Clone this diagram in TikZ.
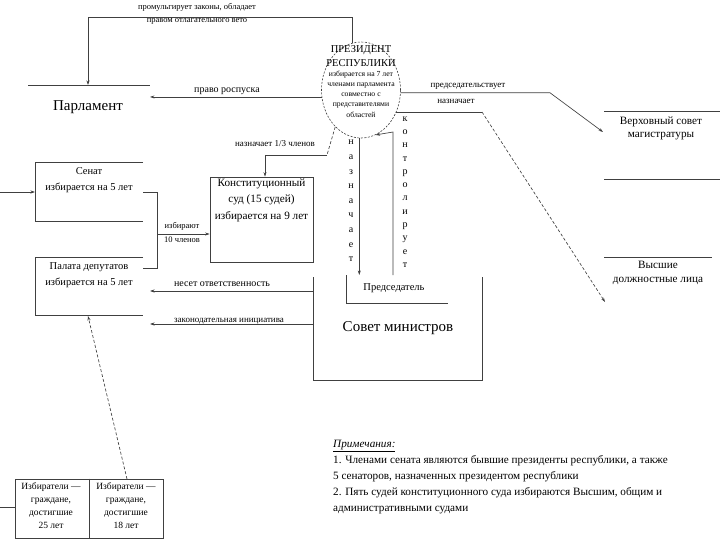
\documentclass[tikz,border=0pt]{standalone}
\usepackage{fontspec}
\setmainfont{Liberation Serif}
\usetikzlibrary{shapes.geometric,arrows.meta,calc}
\newcommand{\fsz}[2]{\fontsize{#1}{#2}\selectfont}
\begin{document}
\begin{tikzpicture}[x=1pt,y=-1pt,
  ln/.style={draw=black!75,line width=0.65pt},
  arr/.style={ln,-{Stealth[length=4.5pt,width=3pt]}},
  dsh/.style={ln,dash pattern=on 3pt off 2pt},
  lbl/.style={inner sep=0pt,font=\fsz{9}{11}},
  boxtxt/.style={inner sep=0pt,align=center,font=\fsz{10.5}{16}},
  bigtxt/.style={inner sep=0pt,font=\fsz{15}{18}},
  vert/.style={inner sep=0pt,align=center}]
\useasboundingbox (0,0) rectangle (720,540);
\fill[white] (0,0) rectangle (720,540);

% ---------- Parliament ----------
\coordinate (parlL) at (28,85);
\coordinate (parlR) at (150,85);
\coordinate (parlT) at (88,85);
\draw[ln] (parlL) -- (parlR);
\node[bigtxt] (parl) at (88,107) {Парламент};

% ---------- President ----------
\node[ellipse,draw=black!75,line width=0.6pt,dash pattern=on 2pt off 1.5pt,
      minimum width=79pt,minimum height=96pt,inner sep=0pt] (pres) at (361,90) {};
\node[vert,font=\fsz{10.5}{14}] (prestitle) at (361,56) {ПРЕЗИДЕНТ\\РЕСПУБЛИКИ};
\node[vert,font=\fsz{7.7}{10.2}] (pressub) at (361,94) {избирается на 7 лет\\членами парламента\\совместно с\\представителями\\областей};

% top connector: promulgates laws
\coordinate (topy) at (0,17);
\draw[arr] (pres.100) -- (pres.100 |- topy) -| (parlT);
\node[lbl,align=center,font=\fsz{8.5}{13}] (promlbl) at (197,13.5) {промульгирует законы, обладает\\правом отлагательного вето};

% right of dissolution
\draw[arr] (pres.190) -- (pres.190 -| parlR);
\node[lbl,font=\fsz{10}{12}] (rosplbl) at (227,91) {право роспуска};

% ---------- Senate / Chamber ----------
\draw[ln] (143,162) -- (35,162) -- (35,221) -- (143,221);
\node[boxtxt] (senat) at (89,180) {Сенат\\избирается на 5 лет};
\draw[ln] (143,257) -- (35,257) -- (35,315) -- (143,315);
\node[boxtxt] (palata) at (89,275) {Палата депутатов\\избирается на 5 лет};
\coordinate (sin) at (0,192);
\coordinate (senL) at (35,192);
\draw[arr] (sin) -- (senL);

% bracket to constitutional court
\coordinate (brk) at (157,234);
\draw[ln] (143,192) -- (157,192) -- (157,268) -- (143,268);

% ---------- Constitutional court ----------
\node[draw=black!75,line width=0.65pt,minimum width=103pt,minimum height=85pt,inner sep=0pt] (court) at (261.5,219.5) {};
\node[boxtxt,font=\fsz{11.2}{16.5}] (courttxt) at (261.5,200) {Конституционный\\суд (15 судей)\\избирается на 9 лет};
\draw[arr] (brk) -- (brk -| court.west);
\node[lbl,font=\fsz{8.5}{10}] (izblbl) at (182,226) {избирают};
\node[lbl,font=\fsz{8.5}{10}] (chllbl) at (182,240) {10 членов};

% appoints 1/3
\coordinate (cj) at (327,155);
\coordinate (ck) at (265,155);
\draw[dsh] (pres.235) -- (cj);
\draw[ln] (cj) -- (ck);
\draw[arr] (ck) -- (ck |- court.north);
\node[lbl,font=\fsz{9}{11}] (naz13) at (275,144) {назначает 1/3 членов};

% ---------- Council of ministers ----------
\draw[ln] (313,277) -- (313,380) -- (482,380) -- (482,277);
\node[bigtxt,font=\fsz{15}{17}] (sovmin) at (398,328) {Совет министров};
\draw[ln] (346,275) -- (346,303) -- (448,303);
\node[inner sep=0pt,font=\fsz{10.5}{12}] (pred) at (394,288) {Председатель};
\coordinate (predT) at (359,275);

% appoints (vertical)
\draw[arr] (pres.268) -- (pres.268 |- predT);
\node[vert,font=\fsz{10}{14.6}] (vnaz) at (351,201) {н\\а\\з\\н\\а\\ч\\а\\е\\т};

% controls (vertical)
\coordinate (kb) at (393,275);
\coordinate (kt) at (393,132);
\draw[arr] (kb) -- (kt) -- (pres.288);
\node[vert,font=\fsz{10}{13.3}] (vkon) at (405,192) {к\\о\\н\\т\\р\\о\\л\\и\\р\\у\\е\\т};

% responsibility / legislative initiative
\coordinate (r1) at (313,291);
\coordinate (r1e) at (150,291);
\coordinate (r2) at (313,324);
\coordinate (r2e) at (150,324);
\draw[arr] (r1) -- (r1e);
\draw[arr] (r2) -- (r2e);
\node[lbl,font=\fsz{10}{12}] (otvlbl) at (222,284) {несет ответственность};
\node[lbl,font=\fsz{9}{11}] (inilbl) at (229,321) {законодательная инициатива};

% ---------- Right side ----------
\draw[ln] (604,111) -- (720,111);
\draw[ln] (604,179) -- (720,179);
\node[boxtxt,font=\fsz{11.2}{13}] (vsm) at (661,128) {Верховный совет\\магистратуры};
\draw[ln] (604,257) -- (712,257);
\node[boxtxt,font=\fsz{11.2}{14}] (vdl) at (658,273) {Высшие\\должностные лица};

\coordinate (p1) at (550,93);
\coordinate (vsmin) at (603,132);
\draw[arr] (pres.356) -- (pres.356 -| p1) -- (vsmin);
\node[lbl,font=\fsz{9}{11}] (predlbl) at (468,86) {председательствует};
\node[lbl,font=\fsz{9}{11}] (nazlbl) at (456,101) {назначает};

\coordinate (n1) at (482,112);
\coordinate (vdlin) at (605,302);
\draw[ln] (pres.327) -- (pres.327 -| n1);
\draw[dsh,-{Stealth[length=4.5pt,width=3pt]}] (n1) -- (vdlin);

% ---------- Electors ----------
\node[draw=black!75,line width=0.65pt,minimum width=148pt,minimum height=59pt,inner sep=0pt] (el) at (89,508.5) {};
\draw[ln] (el.north) -- (el.south);
\node[vert,font=\fsz{9.5}{13}] (el1) at (51,506) {Избиратели —\\граждане,\\достигшие\\25 лет};
\node[vert,font=\fsz{9.5}{13}] (el2) at (126,506) {Избиратели —\\граждане,\\достигшие\\18 лет};
\coordinate (elin) at (0,507);
\draw[ln] (elin) -- (elin -| el.west);
\coordinate (elt) at (127,479);
\coordinate (palB) at (88,316);
\draw[dsh,-{Stealth[length=4.5pt,width=3pt]}] (elt) -- (palB);

% ---------- Notes ----------
\node[inner sep=0pt,align=left,anchor=west,font=\fsz{11.2}{16}] (notes) at (333,477)
 {\underline{\textit{Примечания:}}\\
  1. Членами сената являются бывшие президенты республики, а также\\
  5 сенаторов, назначенных президентом республики\\
  2. Пять судей конституционного суда избираются Высшим, общим и\\
  административными судами};
\end{tikzpicture}
\end{document}
